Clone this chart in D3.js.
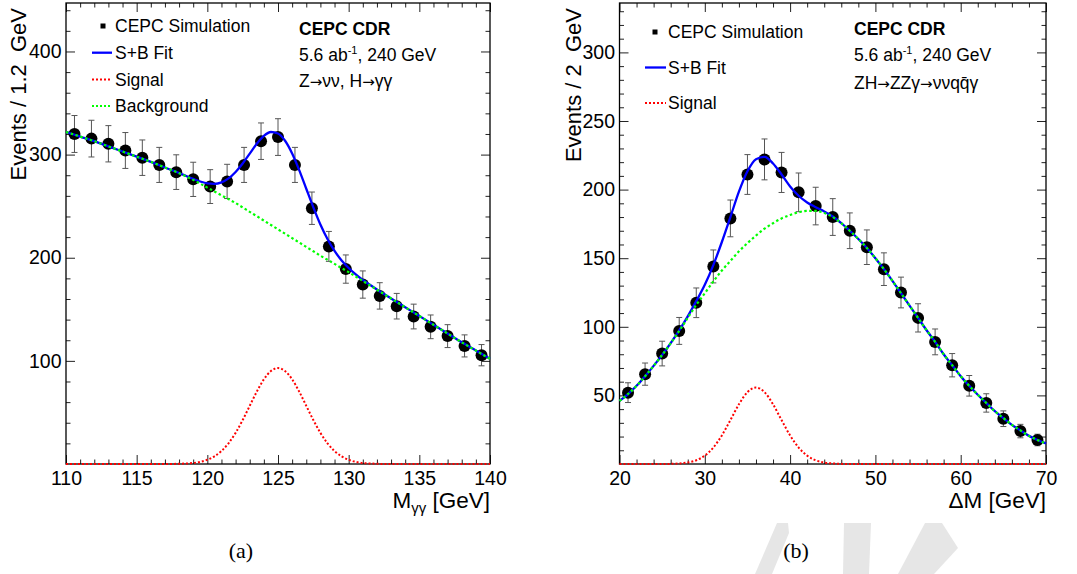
<!DOCTYPE html>
<html><head><meta charset="utf-8">
<script src="https://cdn.jsdelivr.net/npm/d3@7"></script>
<style>
html,body{margin:0;padding:0;background:#fff;}
svg{display:block;}
text{font-family:"Liberation Sans",Arial,Helvetica,sans-serif;fill:#000;}
</style></head><body>
<svg id="c" width="1077" height="574"></svg>
<script>
// ---------------- DATA: panel (a) ----------------
const leftBinCenters = [110.6,111.8,113.0,114.2,115.4,116.6,117.8,119.0,120.2,121.4,122.6,123.8,125.0,126.2,127.4,128.6,129.8,131.0,132.2,133.4,134.6,135.8,137.0,138.2,139.4];
const leftCounts = [320,315.5,310.5,304,297,290,283,276,269,274,290,313,317,290,248,211,189,174,163,153,143,133,124,114.5,105.5];
const leftErrors = [17.9,17.8,17.6,17.4,17.2,17.0,16.8,16.6,16.4,16.6,17.0,17.7,17.8,17.0,15.7,14.5,13.7,13.2,12.8,12.4,12.0,11.5,11.1,10.7,10.3];
const leftCurveX = [110,111,112,113,114,115,116,117,118,118.5,119,119.5,120,120.5,121,121.5,122,122.5,123,123.5,124,124.5,125,125.5,126,126.5,127,127.5,128,128.5,129,129.5,130,130.5,131,131.5,132,133,134,135,136,137,138,139,140];
const leftBackground = [322,317.5,313,308,303,298,293,287.5,282,278.8,275.5,271.8,268,264.3,260.5,256.8,253,248.8,244.5,240.3,236,231.8,227.5,223.3,219,214.8,210.5,206.3,202,198,194,190,186,181.8,177.5,173.3,169,160.5,152,143.5,135,126.5,118,110,102];
const leftSignal = [0,0,0,0,0,0,0,0,0.2,0.5,1.0,2.1,4.1,7.4,12.6,20.1,30.2,42.6,56.4,70.2,82.1,90.1,93,90.1,82.1,70.2,56.4,42.6,30.2,20.1,12.6,7.4,4.1,2.1,1.0,0.5,0.2,0,0,0,0,0,0,0,0];
const leftSBFit = [322,317.5,313,308,303,298,293,287.5,282.2,279.3,276.5,273.9,272.1,271.7,273.1,276.9,283.2,291.4,300.9,310.5,318.1,321.9,320.5,313.4,301.1,285,266.9,248.9,232.2,218.1,206.6,197.4,190.1,183.9,178.5,173.8,169.2,160.5,152,143.5,135,126.5,118,110,102];
const leftXTicks = [110,115,120,125,130,135,140];
const leftYTicks = [100,200,300,400];

// ---------------- DATA: panel (b) ----------------
const rightBinCenters = [21,23,25,27,29,31,33,35,37,39,41,43,45,47,49,51,53,55,57,59,61,63,65,67,69];
const rightCounts = [52,65.5,80.5,97,117.5,144,179,211,222,212.5,198,188,180,170,158,142,125,106.5,89,72,57,44.5,33,24,17.5];
const rightErrors = [7.2,8.1,9.0,9.8,10.8,12.0,13.4,14.5,14.9,14.6,14.1,13.7,13.4,13.0,12.6,11.9,11.2,10.3,9.4,8.5,7.5,6.7,5.7,4.9,4.2];
const rightCurveX = [20,21,22,23,24,25,26,27,28,29,30,31,32,33,34,35,36,37,38,39,40,41,42,43,44,45,46,47,48,49,50,51,52,53,54,55,56,57,58,59,60,61,62,63,64,65,66,67,68,69,70];
const rightBackground = [46,51,57,64,71.5,79.5,88,97,106.5,116,124.5,133,141,148,155,161,166.5,171.5,175.5,179,181.5,183.5,184.5,184.5,183,180,175.5,170,164,157.5,150,142,133.5,124.5,115.5,106.5,97.5,89,80,72,64,57,50.5,44.5,38.5,33.5,28.5,24.5,20.5,17.5,15];
const rightSignal = [0,0,0,0,0,0,0.1,0.4,1.1,2.7,6.1,12.0,20.8,32.0,43.5,52.4,55.7,52.4,43.5,32.0,20.8,12.0,6.1,2.7,1.1,0.4,0.1,0,0,0,0,0,0,0,0,0,0,0,0,0,0,0,0,0,0,0,0,0,0,0,0];
const rightSBFit = [46,51,57,64,71.5,79.5,88.1,97.4,107.6,118.7,130.6,145,161.8,180,198.5,213.4,222.2,223.9,219,211,202.3,195.5,190.6,187.2,184.1,180.4,175.6,170,164,157.5,150,142,133.5,124.5,115.5,106.5,97.5,89,80,72,64,57,50.5,44.5,38.5,33.5,28.5,24.5,20.5,17.5,15];
const rightXTicks = [20,30,40,50,60,70];
const rightYTicks = [50,100,150,200,250,300];

// ---------------- DRAWING ----------------
const svg = d3.select("#c");

// faint document watermark (decoration)
const wm = svg.append("g").attr("fill","#e6e6e6");
[[[777,523],[788,523],[789,533],[772,574],[755,574]],
 [[844,523],[871,523],[869,574],[843,574]],
 [[925,523],[942,523],[958,548],[934,574],[898,574]]].forEach(p=>{
  wm.append("path").attr("d","M"+p.map(q=>q.join(",")).join("L")+"Z");
});

// write text with long arrows rendered in DejaVu Sans
function richText(t, str){
  str.split("→").forEach((part,i)=>{
    if(i>0) t.append("tspan").style("font-family","'DejaVu Sans', sans-serif").attr("font-size",15).text("→");
    if(part) t.append("tspan").text(part);
  });
}

function drawPanel(P){
  const x = d3.scaleLinear().domain(P.xDomain).range([P.left, P.right]);
  const y = d3.scaleLinear().domain(P.yDomain).range([P.bottom, P.top]);
  const g = svg.append("g");
  const MAJ = 9, MIN = 4.5;
  const xMinor = d3.range(P.xDomain[0], P.xDomain[1]+1e-9, P.xMinorStep).filter(v=>!P.xTicks.some(t=>Math.abs(t-v)<1e-6));
  const yMinor = d3.range(P.yMinorStep, P.yDomain[1], P.yMinorStep).filter(v=>Math.abs(v/P.yMajorStep-Math.round(v/P.yMajorStep))>1e-6);

  function styleAxis(sel){
    sel.select(".domain").remove();
    sel.selectAll(".tick line").attr("stroke","#222").attr("stroke-width",1);
    sel.selectAll(".tick text").attr("font-size",19.5).attr("font-family","Liberation Sans, Arial, sans-serif").attr("fill","#000");
  }
  g.append("g").attr("transform",`translate(0,${P.bottom})`)
    .call(d3.axisBottom(x).tickValues(P.xTicks).tickSize(-MAJ).tickPadding(7).tickFormat(d3.format("d"))).call(styleAxis);
  g.append("g").attr("transform",`translate(0,${P.bottom})`)
    .call(d3.axisBottom(x).tickValues(xMinor).tickSize(-MIN).tickFormat("")).call(styleAxis);
  g.append("g").attr("transform",`translate(0,${P.top})`)
    .call(d3.axisTop(x).tickValues(P.xTicks).tickSize(-MAJ).tickFormat("")).call(styleAxis);
  g.append("g").attr("transform",`translate(0,${P.top})`)
    .call(d3.axisTop(x).tickValues(xMinor).tickSize(-MIN).tickFormat("")).call(styleAxis);
  g.append("g").attr("transform",`translate(${P.left},0)`)
    .call(d3.axisLeft(y).tickValues(P.yTicks).tickSize(-MAJ).tickPadding(4.5).tickFormat(d3.format("d"))).call(styleAxis);
  g.append("g").attr("transform",`translate(${P.left},0)`)
    .call(d3.axisLeft(y).tickValues(yMinor).tickSize(-MIN).tickFormat("")).call(styleAxis);
  g.append("g").attr("transform",`translate(${P.right},0)`)
    .call(d3.axisRight(y).tickValues(P.yTicks).tickSize(-MAJ).tickFormat("")).call(styleAxis);
  g.append("g").attr("transform",`translate(${P.right},0)`)
    .call(d3.axisRight(y).tickValues(yMinor).tickSize(-MIN).tickFormat("")).call(styleAxis);

  g.append("rect").attr("x",P.left).attr("y",P.top).attr("width",P.right-P.left).attr("height",P.bottom-P.top)
    .attr("fill","none").attr("stroke","#000").attr("stroke-width",1.3);

  const eb = g.append("g").attr("stroke","#555").attr("stroke-width",1);
  P.bins.forEach((b,i)=>{
    const cx = x(b), y1 = y(P.counts[i]-P.errors[i]), y2 = y(P.counts[i]+P.errors[i]);
    eb.append("line").attr("x1",cx).attr("x2",cx).attr("y1",y1).attr("y2",y2);
    eb.append("line").attr("x1",cx-3).attr("x2",cx+3).attr("y1",y1).attr("y2",y1);
    eb.append("line").attr("x1",cx-3).attr("x2",cx+3).attr("y1",y2).attr("y2",y2);
  });
  g.append("g").selectAll("circle").data(P.bins).join("circle")
    .attr("cx",d=>x(d)).attr("cy",(d,i)=>y(P.counts[i])).attr("r",6).attr("fill","#000");

  const line = d3.line().x(d=>x(d[0])).y(d=>y(d[1])).curve(d3.curveMonotoneX);
  const pts = arr => P.curveX.map((v,i)=>[v,arr[i]]);
  g.append("path").attr("d",line(pts(P.sb))).attr("fill","none").attr("stroke","#0000ff").attr("stroke-width",2.3);
  g.append("path").attr("d",line(pts(P.bkg))).attr("fill","none").attr("stroke","#00ff00").attr("stroke-width",2.2).attr("stroke-dasharray","2.5,2.5");
  g.append("path").attr("d",line(pts(P.sig))).attr("fill","none").attr("stroke","#ff0000").attr("stroke-width",2).attr("stroke-dasharray","2,2");

  g.append("text").attr("transform",`translate(${P.yTitleX},${P.top+5}) rotate(-90)`)
    .attr("text-anchor","end").attr("font-size",22).attr("xml:space","preserve").style("white-space","pre")
    .text(P.yTitle);
  const xt = g.append("text").attr("x",P.right).attr("y",508).attr("text-anchor","end").attr("font-size",22.5);
  P.xTitle(xt);

  const L = P.legend;
  L.rows.forEach((r,i)=>{
    const yy = L.y0 + i*L.dy;
    if(r.type==="marker"){
      g.append("rect").attr("x",L.symX-2.5).attr("y",yy-2.5).attr("width",5).attr("height",5).attr("fill","#000");
    } else {
      g.append("line").attr("x1",L.lineX1).attr("x2",L.lineX2).attr("y1",yy).attr("y2",yy)
        .attr("stroke",r.color).attr("stroke-width",r.type==="solid"?2.3:2)
        .attr("stroke-dasharray",r.type==="solid"?null:"2,2");
    }
    g.append("text").attr("x",L.textX).attr("y",yy+6.3).attr("font-size",17.5).text(r.label);
  });
  const H = P.header;
  g.append("text").attr("x",H.x).attr("y",H.y0).attr("font-size",17.5).attr("font-weight","bold").text("CEPC CDR");
  const t2 = g.append("text").attr("x",H.x).attr("y",H.y0+H.dy).attr("font-size",17.5);
  t2.append("tspan").text("5.6 ab");
  t2.append("tspan").attr("dy",-7).attr("font-size",11).text("-1");
  t2.append("tspan").attr("dy",7).text(", 240 GeV");
  const t3 = g.append("text").attr("x",H.x).attr("y",H.y0+2*H.dy+H.extra).attr("font-size",17.5);
  richText(t3, H.line3);

  svg.append("text").attr("x",P.captionX).attr("y",558).attr("text-anchor","middle")
    .style("font-family","'Liberation Serif', 'Times New Roman', serif")
    .attr("font-size",22).text(P.caption);
}

drawPanel({
  left:66, right:490, top:3, bottom:464,
  xDomain:[110,140], yDomain:[0,447], xTicks:leftXTicks, yTicks:leftYTicks,
  xMinorStep:1, yMinorStep:20, yMajorStep:100,
  bins:leftBinCenters, counts:leftCounts, errors:leftErrors,
  curveX:leftCurveX, sb:leftSBFit, bkg:leftBackground, sig:leftSignal,
  yTitle:"Events / 1.2  GeV", yTitleX:25.5,
  xTitle:t=>{ t.append("tspan").text("M"); t.append("tspan").attr("dy",5).attr("font-size",15).text("γγ"); t.append("tspan").attr("dy",-5).text(" [GeV]"); },
  legend:{y0:26, dy:26.7, symX:103, lineX1:92, lineX2:112, textX:115,
    rows:[{type:"marker",label:"CEPC Simulation"},{type:"solid",color:"#0000ff",label:"S+B Fit"},
          {type:"dot",color:"#ff0000",label:"Signal"},{type:"dot",color:"#00ff00",label:"Background"}]},
  header:{x:299, y0:34.5, dy:26, extra:0, line3:"Z→νν, H→γγ"},
  caption:"(a)", captionX:241
});

drawPanel({
  left:619.5, right:1046, top:3, bottom:464,
  xDomain:[20,70], yDomain:[0,336], xTicks:rightXTicks, yTicks:rightYTicks,
  xMinorStep:2, yMinorStep:10, yMajorStep:50,
  bins:rightBinCenters, counts:rightCounts, errors:rightErrors,
  curveX:rightCurveX, sb:rightSBFit, bkg:rightBackground, sig:rightSignal,
  yTitle:"Events / 2  GeV", yTitleX:581,
  xTitle:t=>{ t.text("ΔM [GeV]"); },
  legend:{y0:32, dy:35.5, symX:655, lineX1:645, lineX2:666, textX:668,
    rows:[{type:"marker",label:"CEPC Simulation"},{type:"solid",color:"#0000ff",label:"S+B Fit"},
          {type:"dot",color:"#ff0000",label:"Signal"}]},
  header:{x:854, y0:34.5, dy:26, extra:2, line3:"ZH→ZZγ→ννqq̄γ"},
  caption:"(b)", captionX:796
});
</script>
</body></html>
